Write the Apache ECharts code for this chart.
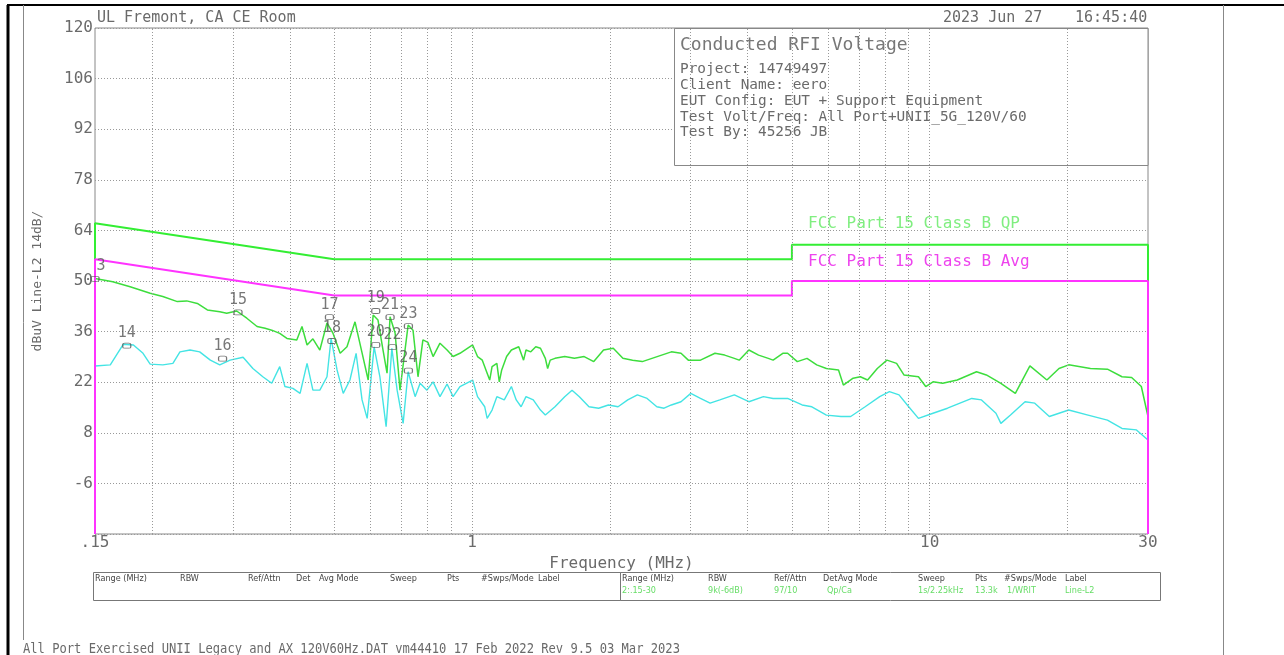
<!DOCTYPE html>
<html><head><meta charset="utf-8">
<script src="https://cdn.jsdelivr.net/npm/echarts@6/dist/echarts.min.js"></script>
<style>html,body{margin:0;padding:0;background:#fff;}#c{width:1284px;height:655px;}</style>
</head><body><div id="c"></div>
<script>
// ---- data ----
const freqQP = [0.150,0.164,0.179,0.198,0.211,0.227,0.238,0.251,0.264,0.281,
0.291,0.306,0.322,0.339,0.353,0.365,0.380,0.394,0.414,0.425,
0.436,0.449,0.465,0.482,0.497,0.515,0.533,0.555,0.575,0.593,
0.608,0.623,0.639,0.652,0.662,0.679,0.696,0.725,0.743,0.762,
0.781,0.801,0.822,0.851,0.882,0.909,0.941,
1.003,1.028,1.053,1.079,1.093,1.106,1.133,1.147,1.161,1.190,
1.219,1.265,1.296,1.312,1.344,1.378,1.411,1.446,1.463,1.482,
1.518,1.594,1.674,1.758,1.845,1.938,2.035,2.136,2.243,2.355,
2.473,2.596,2.726,2.862,2.969,3.156,3.395,3.565,3.743,3.835,
4.027,4.228,4.440,4.549,4.776,4.893,5.137,5.395,5.665,5.948,
6.322,6.478,6.804,7.055,7.317,7.684,8.066,8.467,8.786,9.452,
9.804,10.17,10.68,11.49,12.66,13.30,14.31,15.39,16.56,18.04,
19.17,20.13,22.46,24.46,26.32,27.63,29.01,30.0];
const valQP = [50.7,49.8,48.4,46.6,45.7,44.3,44.5,43.8,42.0,41.5,
41.1,41.7,39.7,37.4,36.9,36.4,35.5,34.1,33.7,37.4,
32.3,34.0,30.9,38.4,35.5,30.0,31.8,38.7,30.1,22.6,
40.6,39.2,30.9,24.5,40.1,35.6,19.8,37.8,36.4,23.5,
33.7,33.0,29.1,32.8,30.9,29.1,30.0,
32.3,29.1,28.1,24.5,22.6,26.3,27.2,22.1,25.4,29.1,
30.9,31.8,28.1,30.9,30.4,31.8,31.4,28.6,25.8,28.1,
28.6,29.1,28.6,29.1,27.7,30.9,31.4,28.6,28.1,27.7,
28.6,29.5,30.4,30.0,28.1,28.1,30.0,29.5,28.6,28.1,
30.9,29.5,28.6,28.1,30.0,30.0,27.7,28.6,26.8,25.8,
25.4,21.2,23.1,23.5,22.6,25.8,28.1,27.2,24.0,23.5,
20.8,22.1,21.7,22.6,24.9,24.0,21.7,18.9,26.5,22.6,
25.8,26.8,25.8,25.6,23.5,23.3,20.8,12.5];

const freqAvg = [0.150,0.162,0.168,0.173,0.182,0.191,0.198,0.211,0.222,0.230,
0.242,0.254,0.268,0.281,0.296,0.316,0.332,0.349,0.365,0.380,
0.390,0.406,0.421,0.436,0.449,0.465,0.482,0.492,0.507,0.523,
0.541,0.558,0.575,0.590,0.611,0.629,0.649,0.668,0.686,0.707,
0.725,0.751,0.770,0.797,0.822,0.851,0.882,0.909,0.941,
1.003,1.028,1.066,1.079,1.106,1.133,1.176,1.219,1.249,1.280,
1.312,1.361,1.411,1.446,1.518,1.594,1.654,1.716,1.801,1.891,
1.986,2.085,2.189,2.298,2.413,2.534,2.628,2.726,2.862,3.006,
3.156,3.313,3.479,3.743,4.027,4.333,4.549,4.893,5.264,5.528,
5.948,6.400,6.721,7.228,7.778,8.166,8.571,9.000,9.452,10.17,
10.94,12.36,12.98,13.96,14.31,15.02,16.16,16.97,18.26,20.13,
22.19,24.46,26.32,28.31,30.0];
const valAvg = [26.5,26.8,30.0,32.5,32.3,30.0,27.0,26.8,27.2,30.4,
30.9,30.4,28.1,26.8,28.1,28.9,25.8,23.5,21.7,26.3,
20.8,20.3,18.9,27.2,19.8,19.8,23.5,34.1,25.4,18.9,
22.6,30.0,17.1,12.0,31.8,23.5,9.7,31.4,19.8,10.6,
24.9,18.0,21.7,19.8,22.1,18.0,21.5,18.0,20.8,
22.6,18.0,15.2,12.0,14.3,18.0,17.1,20.8,17.1,15.2,
18.0,17.1,14.3,12.9,15.2,18.0,19.8,18.0,15.2,14.8,
15.7,15.2,17.1,18.5,17.5,15.2,14.8,15.7,16.6,18.9,
17.5,16.2,17.1,18.5,16.6,18.0,17.5,17.5,15.7,15.2,
12.9,12.5,12.5,15.2,18.0,19.4,18.5,15.2,12.0,13.4,
14.8,17.5,17.1,13.4,10.6,12.9,16.6,16.2,12.5,14.3,
12.9,11.5,9.2,8.8,6.0];

const qpLimitFreq = [0.15,0.15,0.5,5,5,30,30];
const qpLimitVal  = [-20,66,56,56,60,60,-20];
const avgLimitFreq = [0.15,0.15,0.5,5,5,30,30];
const avgLimitVal  = [-20,56,46,46,50,50,-20];

const markerIds   = ['3','14','15','16','17','18','19','20','21','22','23','24'];
const markerFreqs = [0.150,0.176,0.308,0.285,0.488,0.494,0.616,0.616,0.662,0.670,0.726,0.726];
const markerVals  = [50.6,32.1,41.3,28.5,40.0,33.4,41.7,32.3,40.0,31.7,37.5,25.2];

const gridFreqs = [0.2,0.3,0.4,0.5,0.6,0.7,0.8,0.9,1,2,3,4,5,6,7,8,9,10,20];
const yTicks = {min:-20, max:120, interval:14};
const xTickLabels = {0.15:'.15', 1:'1', 10:'10', 30:'30'};

const infoLines = ['Project: 14749497','Client Name: eero','EUT Config: EUT + Support Equipment',
  'Test Volt/Freq: All Port+UNII_5G_120V/60','Test By: 45256 JB'];
const tableHeads = ['Range (MHz)','RBW','Ref/Attn','Det','Avg Mode','Sweep','Pts','#Swps/Mode','Label'];
const tableRow2 = ['2:.15-30','9k(-6dB)','97/10','Qp/Ca','1s/2.25kHz','13.3k','1/WRIT','Line-L2'];

// ---- build ----
const pairs = (f,v)=>f.map((x,i)=>[x,v[i]]);
const MONO = 'DejaVu Sans Mono';
const NARROW = 'Liberation Sans Narrow, DejaVu Sans Condensed, sans-serif';
const TXT = '#6a6a6a';

const chart = echarts.init(document.getElementById('c'), null, {renderer:'canvas'});

const graphics = [];
// page frame
graphics.push({type:'line', shape:{x1:7,y1:5,x2:1284,y2:5}, style:{stroke:'#000',lineWidth:2}, z:10});
graphics.push({type:'line', shape:{x1:8,y1:5,x2:8,y2:655}, style:{stroke:'#000',lineWidth:3}, z:10});
graphics.push({type:'line', shape:{x1:23.5,y1:5,x2:23.5,y2:640}, style:{stroke:'#888',lineWidth:1}, z:10});
graphics.push({type:'line', shape:{x1:1223.5,y1:5,x2:1223.5,y2:655}, style:{stroke:'#888',lineWidth:1}, z:10});
// header
graphics.push({type:'text', left:97, top:11, style:{text:'UL Fremont, CA CE Room', font:'15px '+MONO, fill:TXT}, z:10});
graphics.push({type:'text', left:943, top:11, style:{text:'2023 Jun 27', font:'15px '+MONO, fill:TXT}, z:10});
graphics.push({type:'text', left:1075, top:11, style:{text:'16:45:40', font:'15px '+MONO, fill:TXT}, z:10});
// title box
graphics.push({type:'rect', shape:{x:674.5,y:28.5,width:473.5,height:137}, style:{fill:'#fff',stroke:'#888',lineWidth:1}, z:5});
graphics.push({type:'text', x:680, y:45, style:{text:'Conducted RFI Voltage', font:'18px '+MONO, fill:'#777', textVerticalAlign:'middle'}, z:6});
const lineY = [69.3,85.5,101.2,117,132.7];
infoLines.forEach((t,i)=>graphics.push({type:'text', x:680, y:lineY[i], style:{text:t, font:'14.4px '+MONO, fill:TXT, textVerticalAlign:'middle'}, z:6}));
// limit labels
graphics.push({type:'text', x:808, y:224, style:{text:'FCC Part 15 Class B QP', font:'16px '+MONO, fill:'#80ee80', textVerticalAlign:'middle'}, z:6});
graphics.push({type:'text', x:808, y:262, style:{text:'FCC Part 15 Class B Avg', font:'16px '+MONO, fill:'#ee44ee', textVerticalAlign:'middle'}, z:6});
// bottom tables
graphics.push({type:'rect', shape:{x:93.5,y:572.5,width:527,height:28}, style:{fill:'none',stroke:'#777',lineWidth:1}, z:5});
graphics.push({type:'rect', shape:{x:620.5,y:572.5,width:540,height:28}, style:{fill:'none',stroke:'#777',lineWidth:1}, z:5});
const headXL = [95,180,248,296,319,390,447,481,538];
const headXR = [622,708,774,823,838,918,975,1004,1065];
tableHeads.forEach((t,i)=>{
  graphics.push({type:'text', x:headXL[i], y:579, style:{text:t, font:'9px '+NARROW, fill:'#444', textVerticalAlign:'middle'}, z:6});
  graphics.push({type:'text', x:headXR[i], y:579, style:{text:t, font:'9px '+NARROW, fill:'#444', textVerticalAlign:'middle'}, z:6});
});
const row2X = [622,708,774,827,918,975,1007,1065];
tableRow2.forEach((t,i)=>graphics.push({type:'text', x:row2X[i], y:591, style:{text:t, font:'9px '+NARROW, fill:'#66dd66', textVerticalAlign:'middle'}, z:6}));
// footer
graphics.push({type:'text', x:23, y:649, scaleX:0.866, style:{text:'All Port Exercised UNII Legacy and AX 120V60Hz.DAT vm44410 17 Feb 2022 Rev 9.5 03 Mar 2023', font:'14px '+MONO, fill:TXT, textVerticalAlign:'middle'}, z:6});

const option = {
  backgroundColor:'#fff',
  animation:false,
  grid:{left:95, right:136, top:28, bottom:121, show:true, borderColor:'#888', borderWidth:1, backgroundColor:'transparent'},
  xAxis:{
    type:'log', logBase:10, min:0.15, max:30,
    name:'Frequency (MHz)', nameLocation:'middle', nameGap:22,
    nameTextStyle:{fontFamily:MONO, fontSize:16, color:TXT},
    axisLine:{show:false}, axisTick:{show:false}, splitLine:{show:false}, minorTick:{show:false},
    axisLabel:{margin:1, fontFamily:MONO, fontSize:16, color:TXT,
      formatter:(v)=>{ for (const k in xTickLabels){ if (Math.abs(v-parseFloat(k))<1e-6*Math.max(1,v)) return xTickLabels[k]; } return ''; }},
  },
  yAxis:{
    type:'value', min:yTicks.min, max:yTicks.max, interval:yTicks.interval,
    name:'dBuV Line-L2 14dB/', nameLocation:'middle', nameGap:51,
    nameTextStyle:{fontFamily:MONO, fontSize:13, color:TXT},
    axisLine:{show:false}, axisTick:{show:false},
    splitLine:{show:true, lineStyle:{color:'#999', width:1, type:[1,2]}},
    axisLabel:{margin:2, fontFamily:MONO, fontSize:16, color:TXT, formatter:(v)=> v===yTicks.min ? '' : String(v)}
  },
  graphic: graphics,
  series:[
    {type:'line', name:'grid', data:[], silent:true, z:1,
      markLine:{silent:true, symbol:'none', label:{show:false},
        lineStyle:{color:'#999', width:1, type:[1,2]},
        data: gridFreqs.map(f=>({xAxis:f}))}},
    {type:'line', name:'QP limit', data:pairs(qpLimitFreq,qpLimitVal), showSymbol:false, symbol:'none',
      lineStyle:{color:'#33ee33', width:2}, z:3, silent:true},
    {type:'line', name:'Avg limit', data:pairs(avgLimitFreq,avgLimitVal), showSymbol:false, symbol:'none',
      lineStyle:{color:'#ff33ff', width:2}, z:4, silent:true},
    {type:'line', name:'QP', data:pairs(freqQP,valQP), showSymbol:false, symbol:'none',
      lineStyle:{color:'#3ddd3d', width:1.5}, z:3, silent:true},
    {type:'line', name:'Avg', data:pairs(freqAvg,valAvg), showSymbol:false, symbol:'none',
      lineStyle:{color:'#44e4e4', width:1.4}, z:3, silent:true},
    {type:'scatter', name:'markers', z:7, silent:true,
      symbol:'roundRect', symbolSize:[8,5],
      itemStyle:{color:'rgba(0,0,0,0)', borderColor:'#555', borderWidth:1},
      label:{show:true, position:'top', distance:2, formatter:(p)=>p.name, fontFamily:MONO, fontSize:15, color:'#555'},
      data: markerIds.map((id,i)=>({name:id, value:[markerFreqs[i], markerVals[i]],
        label: id==='3' ? {offset:[6,0]} : undefined}))}
  ]
};
chart.setOption(option);
</script>
</body></html>
